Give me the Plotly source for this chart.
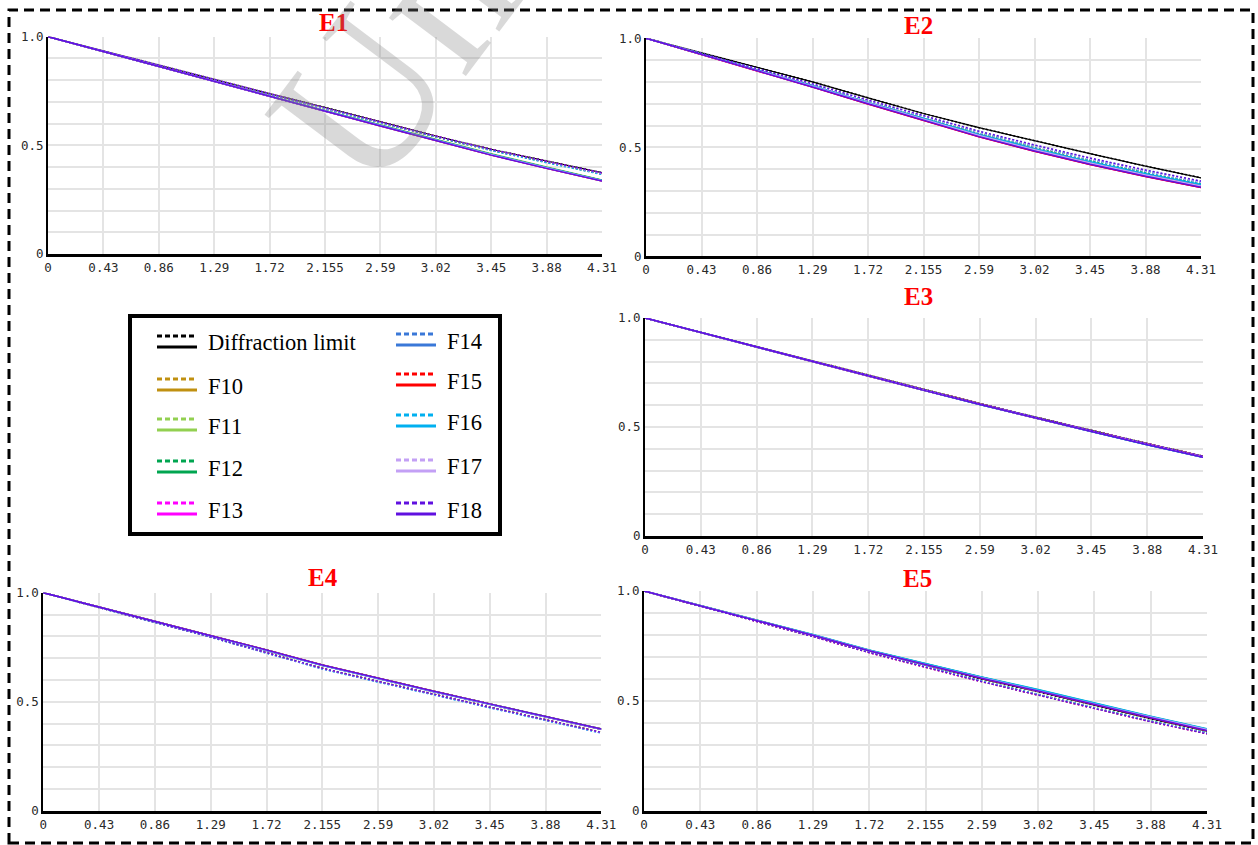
import plotly.graph_objects as go

W, H = 1258, 845

# ---------------- data ----------------
FREQ = [0, 0.431, 0.862, 1.293, 1.724, 2.155, 2.586, 3.017, 3.448, 3.879, 4.31]
X_LABELS = ["0", "0.43", "0.86", "1.29", "1.72", "2.155", "2.59", "3.02", "3.45", "3.88", "4.31"]
Y_TICKS = [0, 0.1, 0.2, 0.3, 0.4, 0.5, 0.6, 0.7, 0.8, 0.9, 1.0]
Y_LABELS = ["0", "", "", "", "", "0.5", "", "", "", "", "1.0"]

SERIES = ["F10", "F11", "F12", "F13", "F14", "F15", "F16", "F17", "F18"]
COLORS = ["#C09010", "#92D050", "#00A550", "#FF00FF", "#3A78D8",
          "#FF0000", "#00B0F0", "#C3A0F5", "#6010E0"]
DL_COLOR = "#000000"
PANELS = ["E1", "E2", "E3", "E4", "E5"]

# E1
E1_DL = [1.0, 0.934, 0.868, 0.803, 0.738, 0.674, 0.608, 0.543, 0.482, 0.427, 0.374]
E1_SAG = [
    [1.0, 0.933, 0.866, 0.800, 0.734, 0.669, 0.603, 0.538, 0.477, 0.421, 0.367],
    [1.0, 0.933, 0.867, 0.801, 0.735, 0.670, 0.605, 0.540, 0.479, 0.423, 0.369],
    [1.0, 0.933, 0.866, 0.800, 0.734, 0.669, 0.604, 0.539, 0.478, 0.422, 0.368],
    [1.0, 0.934, 0.867, 0.802, 0.737, 0.672, 0.607, 0.542, 0.481, 0.425, 0.372],
    [1.0, 0.933, 0.866, 0.801, 0.735, 0.670, 0.605, 0.540, 0.479, 0.423, 0.369],
    [1.0, 0.933, 0.867, 0.801, 0.736, 0.671, 0.606, 0.541, 0.480, 0.424, 0.370],
    [1.0, 0.933, 0.866, 0.800, 0.734, 0.668, 0.603, 0.538, 0.476, 0.420, 0.366],
    [1.0, 0.933, 0.867, 0.801, 0.736, 0.671, 0.606, 0.541, 0.480, 0.424, 0.370],
    [1.0, 0.934, 0.868, 0.802, 0.737, 0.673, 0.607, 0.542, 0.481, 0.426, 0.373],
]
E1_TAN = [
    [1.0, 0.931, 0.862, 0.794, 0.726, 0.659, 0.592, 0.525, 0.459, 0.398, 0.339],
    [1.0, 0.931, 0.863, 0.795, 0.727, 0.661, 0.594, 0.527, 0.461, 0.400, 0.341],
    [1.0, 0.931, 0.862, 0.794, 0.726, 0.659, 0.592, 0.525, 0.459, 0.398, 0.339],
    [1.0, 0.931, 0.862, 0.794, 0.725, 0.657, 0.590, 0.522, 0.456, 0.395, 0.337],
    [1.0, 0.931, 0.862, 0.794, 0.726, 0.658, 0.591, 0.524, 0.458, 0.397, 0.338],
    [1.0, 0.931, 0.862, 0.793, 0.725, 0.657, 0.589, 0.522, 0.456, 0.395, 0.336],
    [1.0, 0.931, 0.862, 0.794, 0.726, 0.658, 0.591, 0.524, 0.458, 0.397, 0.338],
    [1.0, 0.931, 0.862, 0.794, 0.725, 0.658, 0.590, 0.523, 0.457, 0.396, 0.337],
    [1.0, 0.931, 0.862, 0.793, 0.725, 0.657, 0.589, 0.522, 0.455, 0.394, 0.336],
]

# E2
E2_DL = [1.0, 0.934, 0.867, 0.800, 0.727, 0.655, 0.590, 0.530, 0.471, 0.414, 0.360]
E2_SAG = [
    [1.0, 0.929, 0.857, 0.786, 0.711, 0.637, 0.566, 0.502, 0.441, 0.386, 0.334],
    [1.0, 0.929, 0.858, 0.787, 0.712, 0.638, 0.567, 0.503, 0.442, 0.387, 0.335],
    [1.0, 0.929, 0.857, 0.786, 0.711, 0.636, 0.565, 0.501, 0.440, 0.385, 0.333],
    [1.0, 0.928, 0.855, 0.782, 0.706, 0.630, 0.558, 0.493, 0.432, 0.377, 0.326],
    [1.0, 0.930, 0.860, 0.790, 0.715, 0.642, 0.572, 0.509, 0.449, 0.394, 0.343],
    [1.0, 0.928, 0.855, 0.782, 0.706, 0.630, 0.558, 0.493, 0.432, 0.377, 0.326],
    [1.0, 0.929, 0.858, 0.787, 0.712, 0.639, 0.568, 0.504, 0.443, 0.388, 0.337],
    [1.0, 0.929, 0.858, 0.788, 0.713, 0.640, 0.569, 0.505, 0.445, 0.390, 0.339],
    [1.0, 0.930, 0.861, 0.791, 0.717, 0.644, 0.574, 0.511, 0.451, 0.396, 0.345],
]
E2_TAN = [
    [1.0, 0.927, 0.853, 0.779, 0.703, 0.627, 0.554, 0.489, 0.428, 0.373, 0.323],
    [1.0, 0.927, 0.854, 0.780, 0.704, 0.628, 0.555, 0.490, 0.429, 0.374, 0.324],
    [1.0, 0.928, 0.855, 0.782, 0.706, 0.631, 0.559, 0.494, 0.433, 0.378, 0.328],
    [1.0, 0.926, 0.851, 0.776, 0.699, 0.622, 0.548, 0.482, 0.421, 0.366, 0.316],
    [1.0, 0.927, 0.853, 0.779, 0.703, 0.627, 0.554, 0.489, 0.428, 0.373, 0.322],
    [1.0, 0.926, 0.851, 0.776, 0.699, 0.622, 0.548, 0.482, 0.421, 0.366, 0.316],
    [1.0, 0.928, 0.855, 0.782, 0.706, 0.631, 0.559, 0.494, 0.434, 0.379, 0.329],
    [1.0, 0.927, 0.853, 0.779, 0.703, 0.627, 0.554, 0.489, 0.428, 0.373, 0.323],
    [1.0, 0.926, 0.852, 0.777, 0.700, 0.623, 0.549, 0.483, 0.422, 0.367, 0.317],
]

# E3
E3_DL = [1.0, 0.934, 0.868, 0.802, 0.737, 0.672, 0.607, 0.545, 0.484, 0.424, 0.366]
E3_SAG = [
    [1.0, 0.934, 0.867, 0.801, 0.736, 0.671, 0.606, 0.544, 0.483, 0.423, 0.365],
    [1.0, 0.934, 0.868, 0.802, 0.737, 0.672, 0.607, 0.545, 0.484, 0.424, 0.366],
    [1.0, 0.934, 0.867, 0.801, 0.736, 0.671, 0.606, 0.543, 0.482, 0.422, 0.364],
    [1.0, 0.934, 0.868, 0.802, 0.736, 0.671, 0.606, 0.544, 0.483, 0.423, 0.365],
    [1.0, 0.933, 0.867, 0.801, 0.735, 0.670, 0.605, 0.543, 0.482, 0.422, 0.364],
    [1.0, 0.934, 0.868, 0.802, 0.737, 0.672, 0.607, 0.544, 0.483, 0.424, 0.366],
    [1.0, 0.933, 0.867, 0.801, 0.735, 0.670, 0.605, 0.542, 0.481, 0.421, 0.363],
    [1.0, 0.934, 0.867, 0.801, 0.736, 0.671, 0.606, 0.544, 0.483, 0.423, 0.365],
    [1.0, 0.934, 0.868, 0.802, 0.737, 0.672, 0.607, 0.545, 0.484, 0.424, 0.366],
]
E3_TAN = [
    [1.0, 0.933, 0.867, 0.800, 0.734, 0.669, 0.604, 0.541, 0.480, 0.420, 0.362],
    [1.0, 0.934, 0.867, 0.801, 0.735, 0.670, 0.605, 0.542, 0.481, 0.421, 0.363],
    [1.0, 0.933, 0.866, 0.800, 0.734, 0.668, 0.603, 0.540, 0.479, 0.419, 0.361],
    [1.0, 0.933, 0.867, 0.800, 0.734, 0.669, 0.604, 0.541, 0.480, 0.420, 0.362],
    [1.0, 0.933, 0.866, 0.799, 0.733, 0.668, 0.603, 0.540, 0.479, 0.419, 0.361],
    [1.0, 0.933, 0.867, 0.800, 0.734, 0.669, 0.604, 0.541, 0.480, 0.420, 0.362],
    [1.0, 0.933, 0.866, 0.800, 0.734, 0.668, 0.603, 0.540, 0.479, 0.419, 0.361],
    [1.0, 0.933, 0.867, 0.800, 0.734, 0.669, 0.604, 0.541, 0.480, 0.420, 0.362],
    [1.0, 0.933, 0.866, 0.800, 0.734, 0.668, 0.603, 0.540, 0.479, 0.419, 0.361],
]

# E4
E4_DL = [1.0, 0.934, 0.869, 0.805, 0.737, 0.668, 0.607, 0.548, 0.490, 0.432, 0.375]
E4_SAG = [
    [1.0, 0.933, 0.865, 0.797, 0.725, 0.653, 0.593, 0.533, 0.475, 0.417, 0.359],
    [1.0, 0.933, 0.865, 0.798, 0.726, 0.654, 0.594, 0.534, 0.476, 0.418, 0.360],
    [1.0, 0.933, 0.865, 0.797, 0.725, 0.653, 0.593, 0.533, 0.475, 0.417, 0.359],
    [1.0, 0.933, 0.865, 0.797, 0.724, 0.652, 0.592, 0.532, 0.474, 0.416, 0.358],
    [1.0, 0.933, 0.864, 0.796, 0.723, 0.651, 0.591, 0.531, 0.473, 0.415, 0.357],
    [1.0, 0.933, 0.865, 0.797, 0.725, 0.653, 0.593, 0.533, 0.475, 0.417, 0.359],
    [1.0, 0.933, 0.864, 0.796, 0.723, 0.650, 0.590, 0.530, 0.472, 0.414, 0.356],
    [1.0, 0.933, 0.865, 0.797, 0.724, 0.652, 0.592, 0.532, 0.474, 0.416, 0.358],
    [1.0, 0.933, 0.865, 0.797, 0.725, 0.653, 0.593, 0.533, 0.475, 0.417, 0.359],
]
E4_TAN = [
    [1.0, 0.934, 0.869, 0.804, 0.736, 0.667, 0.606, 0.547, 0.489, 0.431, 0.374],
    [1.0, 0.934, 0.869, 0.805, 0.737, 0.668, 0.607, 0.548, 0.490, 0.432, 0.375],
    [1.0, 0.934, 0.869, 0.804, 0.736, 0.667, 0.606, 0.547, 0.489, 0.431, 0.374],
    [1.0, 0.934, 0.868, 0.804, 0.736, 0.667, 0.605, 0.546, 0.488, 0.430, 0.373],
    [1.0, 0.934, 0.869, 0.804, 0.736, 0.667, 0.606, 0.547, 0.488, 0.430, 0.373],
    [1.0, 0.934, 0.869, 0.805, 0.737, 0.668, 0.607, 0.548, 0.489, 0.431, 0.374],
    [1.0, 0.934, 0.868, 0.803, 0.735, 0.666, 0.605, 0.546, 0.488, 0.430, 0.373],
    [1.0, 0.934, 0.869, 0.804, 0.736, 0.667, 0.606, 0.547, 0.489, 0.431, 0.374],
    [1.0, 0.934, 0.869, 0.805, 0.737, 0.668, 0.607, 0.548, 0.490, 0.432, 0.375],
]

# E5
E5_DL = [1.0, 0.933, 0.866, 0.798, 0.727, 0.662, 0.600, 0.542, 0.480, 0.420, 0.363]
E5_SAG = [
    [1.0, 0.932, 0.864, 0.794, 0.722, 0.655, 0.590, 0.529, 0.467, 0.408, 0.354],
    [1.0, 0.932, 0.864, 0.795, 0.723, 0.656, 0.592, 0.531, 0.469, 0.410, 0.356],
    [1.0, 0.932, 0.863, 0.794, 0.721, 0.654, 0.589, 0.528, 0.466, 0.407, 0.353],
    [1.0, 0.932, 0.863, 0.793, 0.720, 0.653, 0.588, 0.527, 0.465, 0.406, 0.352],
    [1.0, 0.932, 0.864, 0.794, 0.722, 0.655, 0.590, 0.529, 0.467, 0.408, 0.354],
    [1.0, 0.932, 0.863, 0.793, 0.720, 0.653, 0.588, 0.527, 0.465, 0.406, 0.351],
    [1.0, 0.932, 0.864, 0.795, 0.723, 0.656, 0.591, 0.530, 0.468, 0.409, 0.355],
    [1.0, 0.932, 0.863, 0.794, 0.721, 0.654, 0.589, 0.528, 0.466, 0.407, 0.353],
    [1.0, 0.932, 0.863, 0.793, 0.720, 0.653, 0.588, 0.527, 0.465, 0.406, 0.351],
]
E5_TAN = [
    [1.0, 0.934, 0.867, 0.800, 0.730, 0.666, 0.606, 0.548, 0.487, 0.427, 0.370],
    [1.0, 0.934, 0.868, 0.801, 0.731, 0.668, 0.608, 0.551, 0.490, 0.430, 0.373],
    [1.0, 0.934, 0.868, 0.801, 0.731, 0.668, 0.608, 0.550, 0.489, 0.429, 0.372],
    [1.0, 0.933, 0.866, 0.799, 0.728, 0.664, 0.603, 0.545, 0.484, 0.424, 0.366],
    [1.0, 0.934, 0.867, 0.800, 0.730, 0.666, 0.606, 0.548, 0.487, 0.427, 0.370],
    [1.0, 0.933, 0.866, 0.799, 0.728, 0.664, 0.603, 0.545, 0.484, 0.424, 0.366],
    [1.0, 0.934, 0.868, 0.802, 0.732, 0.669, 0.609, 0.552, 0.491, 0.431, 0.374],
    [1.0, 0.934, 0.867, 0.800, 0.730, 0.666, 0.606, 0.548, 0.487, 0.427, 0.370],
    [1.0, 0.933, 0.866, 0.799, 0.728, 0.664, 0.603, 0.545, 0.484, 0.424, 0.366],
]

PANEL_DATA = {
    "E1": (E1_DL, E1_SAG, E1_TAN),
    "E2": (E2_DL, E2_SAG, E2_TAN),
    "E3": (E3_DL, E3_SAG, E3_TAN),
    "E4": (E4_DL, E4_SAG, E4_TAN),
    "E5": (E5_DL, E5_SAG, E5_TAN),
}

# ---------------- layout helpers (pixels -> paper) ----------------
def px(x):
    return x / W

def py(y):
    return 1 - y / H

# plot boxes in pixels: (left, right, top, bottom)
BOXES = {
    "E1": (48, 602, 36.7, 254.0),
    "E2": (646, 1201, 38.3, 256.3),
    "E3": (645, 1203, 318, 536),
    "E4": (43.3, 601.3, 592.7, 810.7),
    "E5": (644, 1207, 591, 811),
}
TITLE_POS = {
    "E1": (333, 22), "E2": (918, 25), "E3": (918, 297),
    "E4": (323, 577), "E5": (917, 578),
}

fig = go.Figure()
DOT = "2px,2px"

for i, name in enumerate(PANELS):
    n = "" if i == 0 else str(i + 1)
    xref, yref = "x" + n, "y" + n
    dl, sag, tan = PANEL_DATA[name]
    fig.add_trace(go.Scatter(x=FREQ, y=dl, mode="lines", xaxis=xref, yaxis=yref,
                             line=dict(color=DL_COLOR, width=1.2),
                             name="Diffraction limit", showlegend=False, hoverinfo="skip"))
    fig.add_trace(go.Scatter(x=FREQ, y=dl, mode="lines", xaxis=xref, yaxis=yref,
                             line=dict(color=DL_COLOR, width=1.5, dash=DOT),
                             name="Diffraction limit", showlegend=False, hoverinfo="skip"))
    for s, c, ys, yt in zip(SERIES, COLORS, sag, tan):
        fig.add_trace(go.Scatter(x=FREQ, y=yt, mode="lines", xaxis=xref, yaxis=yref,
                                 line=dict(color=c, width=1.5),
                                 name=s, showlegend=False, hoverinfo="skip"))
        fig.add_trace(go.Scatter(x=FREQ, y=ys, mode="lines", xaxis=xref, yaxis=yref,
                                 line=dict(color=c, width=1.5, dash=DOT),
                                 name=s, showlegend=False, hoverinfo="skip"))

    l, r, t, b = BOXES[name]
    tickfont = dict(family="DejaVu Sans Mono", size=12.5, color="#2a2a2a")
    xa = dict(domain=[px(l), px(r)], range=[0, 4.31], anchor=yref, automargin=False,
              tickmode="array", tickvals=FREQ, ticktext=X_LABELS,
              showgrid=True, gridcolor="#e4e4e4", gridwidth=2,
              showline=True, linecolor="black", linewidth=3,
              zeroline=False, ticks="", tickfont=tickfont, fixedrange=True)
    ya = dict(domain=[py(b), py(t)], range=[0, 1.0], anchor=xref, automargin=False,
              tickmode="array", tickvals=Y_TICKS, ticktext=Y_LABELS,
              showgrid=True, gridcolor="#e4e4e4", gridwidth=2,
              showline=True, linecolor="black", linewidth=2,
              zeroline=False, ticks="", tickfont=tickfont, fixedrange=True)
    fig.update_layout(**{"xaxis" + n: xa, "yaxis" + n: ya})

    tx, ty = TITLE_POS[name]
    fig.add_annotation(x=px(tx), y=py(ty), xref="paper", yref="paper",
                       text="<b>%s</b>" % name, showarrow=False,
                       xanchor="center", yanchor="middle",
                       font=dict(family="Liberation Serif", size=25, color="#FF0000"))

# ---------------- manual legend ----------------
shapes = []
shapes.append(dict(type="rect", xref="paper", yref="paper",
                   x0=px(130), x1=px(500), y0=py(534), y1=py(316),
                   line=dict(color="black", width=4), fillcolor="rgba(0,0,0,0)"))
LEG_LABELS = ["Diffraction limit"] + SERIES
LEG_COLORS = [DL_COLOR] + COLORS
LEG_ROWS_Y = [342, 385, 425, 467, 509, 340, 380, 421, 466, 509]
LEG_COL_X = [(157, 197, 206)] * 5 + [(396, 436, 445)] * 5
for lab, col, ty, (x0, x1, xt) in zip(LEG_LABELS, LEG_COLORS, LEG_ROWS_Y, LEG_COL_X):
    shapes.append(dict(type="line", xref="paper", yref="paper",
                       x0=px(x0), x1=px(x1), y0=py(ty - 6), y1=py(ty - 6),
                       line=dict(color=col, width=3, dash="5px,3px")))
    shapes.append(dict(type="line", xref="paper", yref="paper",
                       x0=px(x0), x1=px(x1), y0=py(ty + 5), y1=py(ty + 5),
                       line=dict(color=col, width=3)))
    fig.add_annotation(x=px(xt), y=py(ty + 1), xref="paper", yref="paper",
                       text=lab, showarrow=False, xanchor="left", yanchor="middle",
                       font=dict(family="Liberation Serif", size=22.5, color="black"))

# dashed outer border
shapes.append(dict(type="rect", xref="paper", yref="paper",
                   x0=px(9), x1=px(1253), y0=py(843), y1=py(10),
                   line=dict(color="black", width=3, dash="10px,6px"),
                   fillcolor="rgba(0,0,0,0)"))

# watermark
fig.add_annotation(x=px(392), y=py(56), xref="paper", yref="paper",
                   text="Un", showarrow=False, textangle=-53,
                   xanchor="center", yanchor="middle",
                   font=dict(family="Liberation Serif", size=210,
                             color="rgba(128,128,128,0.30)"))

fig.update_layout(width=W, height=H,
                  margin=dict(l=0, r=0, t=0, b=0, pad=0, autoexpand=False),
                  paper_bgcolor="white", plot_bgcolor="white",
                  shapes=shapes, showlegend=False, hovermode=False)

fig.write_html("out.html",
               config={"displayModeBar": False},
               post_script="document.body.style.margin='0';document.body.style.padding='0';")
